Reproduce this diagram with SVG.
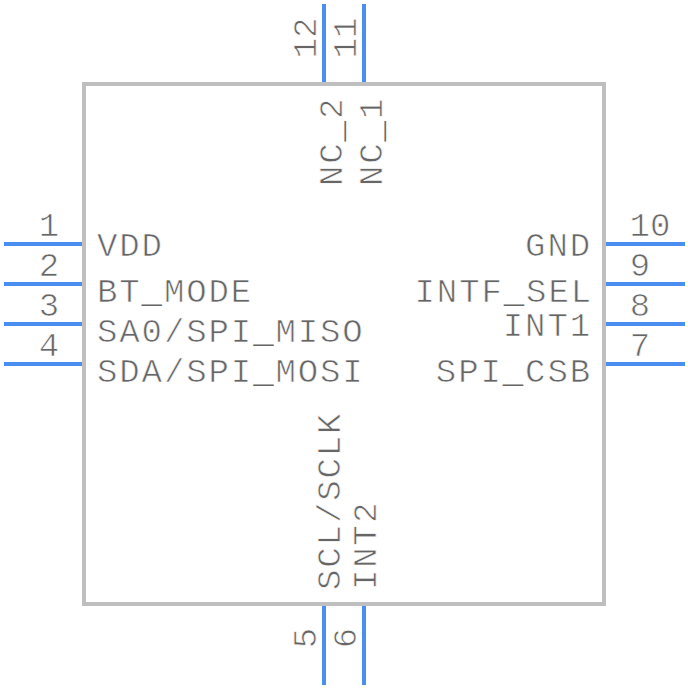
<svg xmlns="http://www.w3.org/2000/svg" width="688" height="688" viewBox="0 0 688 688">
<style>
text{font-family:"Liberation Mono","DejaVu Sans Mono",monospace;font-size:34px;fill:#666;stroke:#fff;stroke-width:.7px}
tspan{stroke:none}
.l{letter-spacing:1.9px}
.e{text-anchor:end}
.m{text-anchor:middle}
.pin{stroke:#4a8ff0;stroke-width:4;fill:none}
</style>
<rect width="688" height="688" fill="#fff"/>
<g id="body"><rect x="84" y="84" width="520" height="520" fill="none" stroke="#bfbfbf" stroke-width="4"/></g>
<g id="pin1"><text class="m" x="49" y="236">1</text><text class="l" x="97" y="256">VDD</text></g>
<g id="pin2"><text class="m" x="49" y="276">2</text><text class="l" x="97" y="302">BT<tspan>_</tspan>MODE</text></g>
<g id="pin3"><text class="m" x="49" y="316">3</text><text class="l" x="97" y="342">SA0/SPI<tspan>_</tspan>MISO</text></g>
<g id="pin4"><text class="m" x="49" y="356">4</text><text class="l" x="97" y="382">SDA/SPI<tspan>_</tspan>MOSI</text></g>
<g id="pin10"><text class="m" x="650" y="236">10</text><text class="l e" x="592" y="256">GND</text></g>
<g id="pin9"><text class="m" x="640" y="276">9</text><text class="l e" x="593" y="302">INTF<tspan>_</tspan>SEL</text></g>
<g id="pin8"><text class="m" x="640" y="316">8</text><text class="l e" x="592" y="336">INT1</text></g>
<g id="pin7"><text class="m" x="640" y="356">7</text><text class="l e" x="592" y="382">SPI<tspan>_</tspan>CSB</text></g>
<g id="pin12"><text class="m" transform="translate(316 38) rotate(-90)">12</text><text transform="translate(342 186) rotate(-90)" class="l">NC<tspan>_</tspan>2</text></g>
<g id="pin11"><text class="m" transform="translate(356 38) rotate(-90)">11</text><text transform="translate(382 186) rotate(-90)" class="l">NC<tspan>_</tspan>1</text></g>
<g id="pin5"><text class="m" transform="translate(316 638) rotate(-90)">5</text><text transform="translate(340 590) rotate(-90)" class="l">SCL/SCLK</text></g>
<g id="pin6"><text class="m" transform="translate(356 638) rotate(-90)">6</text><text transform="translate(376 590) rotate(-90)" class="l">INT2</text></g>
<g id="connectors">
<path class="pin" d="M4 244H82M4 284H82M4 324H82M4 364H82M606 244H685M606 284H685M606 324H685M606 364H685M324 4V82M364 4V82M324 606V685M364 606V685"/>
</g>
</svg>
